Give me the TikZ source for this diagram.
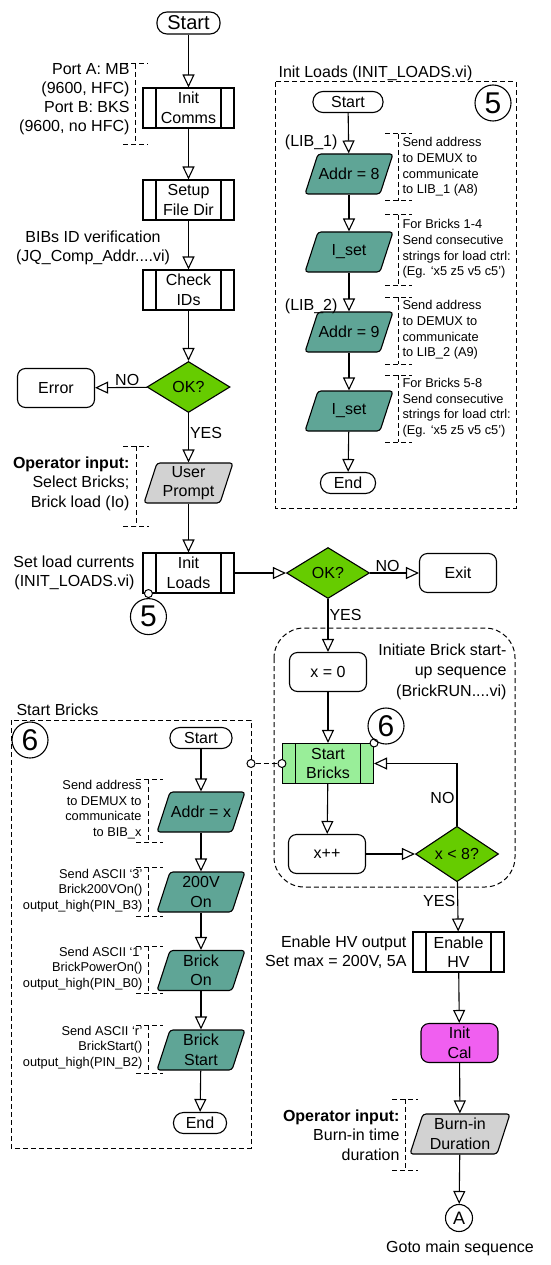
\documentclass[tikz,border=0pt]{standalone}
\usepackage{fontspec}
\setmainfont{Liberation Sans}
\usetikzlibrary{shapes.geometric,arrows.meta}

\definecolor{okgreen}{RGB}{102,204,0}
\definecolor{ioteal}{RGB}{95,165,150}
\definecolor{inputgray}{RGB}{210,210,210}
\definecolor{startgreen}{RGB}{153,238,153}
\definecolor{calpink}{RGB}{240,95,240}
\newcommand{\notefont}{\fontsize{12.8pt}{15.6pt}\selectfont}
% parallelogramme : [largeur]{nom}{x,y}{couleur}{texte}
\newcommand{\ionode}[5][88]{%
  \filldraw[fill=#4, rounded corners=3pt] (#3) ++(-#1/2,20) -- ++(#1-13,0) -- ++(13,-40) -- ++(13-#1,0) -- cycle;
  \node[iotext] (#2) at (#3) {#5};}

\begin{document}
\begin{tikzpicture}[x=1pt,y=-1pt,line width=1.1pt,font=\fontsize{16pt}{19.5pt}\selectfont]
        % Styles des blocs
        \tikzstyle{term}=[draw, rounded corners=10pt, minimum width=62pt, minimum height=21pt, inner sep=0pt]
        \tikzstyle{proc}=[draw, rounded corners=8pt, minimum width=77pt, minimum height=39pt, inner sep=0pt, align=center]
        \tikzstyle{subproc}=[draw, minimum width=91pt, minimum height=40pt, inner sep=0pt, align=center,
            path picture={\draw ([xshift=13pt]path picture bounding box.north west) -- ([xshift=13pt]path picture bounding box.south west)
                ([xshift=-13pt]path picture bounding box.north east) -- ([xshift=-13pt]path picture bounding box.south east);}]
        \tikzstyle{iotext}=[minimum width=60pt, minimum height=40pt, inner sep=0pt, align=center]
        \tikzstyle{decision}=[draw, diamond, minimum width=83pt, minimum height=51pt, inner sep=0pt, fill=okgreen]
        \tikzstyle{badge}=[draw, circle, minimum size=36pt, inner sep=0pt, font=\fontsize{30pt}{30pt}\selectfont]
        \tikzstyle{port}=[draw, circle, minimum size=8pt, inner sep=0pt, fill=white, line width=1pt]
        \tikzstyle{note}=[align=right, font=\notefont, inner sep=0pt]
        \tikzstyle{flow}=[-{Triangle[open,length=13pt,width=12pt]}]
        \tikzstyle{frame}=[line width=1pt, dash pattern=on 5pt off 3pt]

        \useasboundingbox (0,0) rectangle (550,1265);

        % Cadres
        \draw[frame] (275,82) rectangle (516,508);
        \draw[frame] (11,720) rectangle (251,1148);
        \draw[frame, rounded corners=30pt] (274,628) rectangle (515,887);

        % Colonne principale
        \node[term, minimum width=63pt, minimum height=22pt, font=\fontsize{20pt}{20pt}\selectfont] (start) at (188.5,23) {Start};
        \node[subproc] (comms) at (188.5,108) {Init\\Comms};
        \node[subproc] (filedir) at (188.5,200) {Setup\\File Dir};
        \node[subproc] (ids) at (188.5,290) {Check\\IDs};
        \node[decision] (ok1) at (188.5,387) {OK?};
        \node[proc] (err) at (56,388) {Error};
        \ionode[89]{prompt}{188.5,483}{inputgray}{User\\Prompt}
        \node[subproc] (loads) at (188.5,573) {Init\\Loads};
        \node[decision] (ok2) at (328,573) {OK?};
        \node[proc] (exit) at (458,573) {Exit};
        \node[proc] (zero) at (328,672) {x = 0};
        \node[subproc, fill=startgreen] (bricks) at (328,763.5) {Start\\Bricks};
        \node[proc] (inc) at (327,854) {x++};
        \node[decision] (less) at (457,854) {x < 8?};
        \node[subproc] (hv) at (458.5,952) {Enable\\HV};
        \node[proc, fill=calpink] (cal) at (459.5,1043) {Init\\Cal};
        \ionode[100]{dur}{460,1134}{inputgray}{Burn-in\\Duration}
        \node[draw, circle, minimum size=27pt, inner sep=0pt, font=\fontsize{18pt}{18pt}\selectfont] (gotoA) at (459,1218) {A};
        \node (gotoTxt) at (460,1248) {Goto main sequence};

        % Commentaires
        \node[align=right, anchor=east, inner sep=0pt, font=\fontsize{16pt}{19pt}\selectfont] (portsTxt) at (130,99) {Port A: MB\\(9600, HFC)\\Port B: BKS\\(9600, no HFC)};
        \node[align=center, inner sep=0pt] (idsTxt) at (93,248) {BIBs ID verification\\(JQ\_Comp\_Addr....vi)};
        \node[align=right, anchor=east, inner sep=0pt] (promptTxt) at (130,483.5) {\textbf{Operator input:}\\Select Bricks;\\Brick load (Io)};
        \node[align=right, anchor=east, inner sep=0pt] (loadsTxt) at (135,573) {Set load currents\\(INIT\_LOADS.vi)};
        \node[align=right, anchor=east, inner sep=0pt, font=\fontsize{16pt}{20.5pt}\selectfont] (seqTxt) at (507,671.5) {Initiate Brick start-\\up sequence\\(BrickRUN....vi)};
        \node[align=right, anchor=east, inner sep=0pt] (hvTxt) at (407,952) {Enable HV output\\Set max = 200V, 5A};
        \node[align=right, anchor=east, inner sep=0pt] (durTxt) at (400,1135) {\textbf{Operator input:}\\Burn-in time\\duration};
        \draw[frame] (123,64) -- (148,64) (135,64) -- (135,145) (123,145) -- (148,145);
        \draw[frame] (123,446) -- (149,446) (136,446) -- (136,526) (123,526) -- (149,526);
        \draw[frame] (392,1099) -- (418,1099) (405,1099) -- (405,1170) (392,1170) -- (418,1170);

        % Init Loads
        \node[anchor=west, inner sep=0pt] (loadsTitle) at (278,73) {Init Loads (INIT\_LOADS.vi)};
        \node[badge] (five) at (493,103) {5};
        \node[term, minimum width=70pt] (lstart) at (348,102) {Start};
        \ionode{addr8}{349,174}{ioteal}{Addr = 8}
        \ionode{iset1}{349,252}{ioteal}{I\_set}
        \ionode{addr9}{349,332}{ioteal}{Addr = 9}
        \ionode{iset2}{349,411}{ioteal}{I\_set}
        \node[term, minimum width=55pt] (lend) at (348,483) {End};
        \node[anchor=east, inner sep=0pt] (lib1) at (338,142) {(LIB\_1)};
        \node[anchor=east, inner sep=0pt] (lib2) at (338,306) {(LIB\_2)};
        \node[note, align=left, anchor=west] (lnote1) at (402,167) {Send address\\to DEMUX to\\communicate\\to LIB\_1 (A8)};
        \node[note, align=left, anchor=west] (lnote2) at (402,249) {For Bricks 1-4\\Send consecutive\\strings for load ctrl:\\(Eg. `x5 z5 v5 c5')};
        \node[note, align=left, anchor=west] (lnote3) at (402,330) {Send address\\to DEMUX to\\communicate\\to LIB\_2 (A9)};
        \node[note, align=left, anchor=west] (lnote4) at (402,407.5) {For Bricks 5-8\\Send consecutive\\strings for load ctrl:\\(Eg. `x5 z5 v5 c5')};
        \draw[frame] (385,134) -- (412,134) (398,134) -- (398,201) (385,201) -- (412,201);
        \draw[frame] (385,215) -- (412,215) (398,215) -- (398,285) (385,285) -- (412,285);
        \draw[frame] (385,297) -- (412,297) (398,297) -- (398,364) (385,364) -- (412,364);
        \draw[frame] (385,375) -- (412,375) (398,375) -- (398,442) (385,442) -- (412,442);

        % Start Bricks
        \node[anchor=west, inner sep=0pt] (bricksTitle) at (16,710) {Start Bricks};
        \node[badge] (sixA) at (30,740) {6};
        \node[term] (bstart) at (201,738) {Start};
        \ionode{addrx}{201,812}{ioteal}{Addr = x}
        \ionode{on200}{201,892}{ioteal}{200V\\On}
        \ionode{brickon}{201,970.5}{ioteal}{Brick\\On}
        \ionode{brickstart}{201,1050}{ioteal}{Brick\\Start}
        \node[term, minimum width=53pt] (bend) at (200,1123) {End};
        \node[note, anchor=east] (bnote1) at (142,809.5) {Send address\\to DEMUX to\\communicate\\to BIB\_x};
        \node[note, anchor=east] (bnote2) at (143,890.5) {Send ASCII `3'\\Brick200VOn()\\output\_high(PIN\_B3)};
        \node[note, anchor=east] (bnote3) at (143,968.5) {Send ASCII `1'\\BrickPowerOn()\\output\_high(PIN\_B0)};
        \node[note, anchor=east] (bnote4) at (143,1047.5) {Send ASCII `r'\\BrickStart()\\output\_high(PIN\_B2)};
        \draw[frame] (136,779) -- (163,779) (148,779) -- (148,842) (136,842) -- (163,842);
        \draw[frame] (136,867) -- (163,867) (148,867) -- (148,916) (136,916) -- (163,916);
        \draw[frame] (136,946) -- (163,946) (148,946) -- (148,993) (136,993) -- (163,993);
        \draw[frame] (136,1025) -- (163,1025) (148,1025) -- (148,1073) (136,1073) -- (163,1073);

        % Liaisons
        \draw[flow] (start) -- (comms);
        \draw[flow] (comms) -- (filedir);
        \draw[flow] (filedir) -- (ids);
        \draw[flow] (ids) -- (ok1);
        \draw[flow] (ok1) -- node[pos=0.38, above, inner sep=1pt] {NO} (err);
        \draw[flow] (ok1) -- node[pos=0.4, right, inner sep=1pt] {YES} (prompt);
        \draw[flow] (prompt) -- (loads);
        \draw[flow] (loads) -- (ok2);
        \draw[flow] (ok2) -- node[pos=0.36, above, inner sep=1pt] {NO} (exit);
        \draw[flow] (ok2) -- node[pos=0.3, right, inner sep=1pt] {YES} (zero);
        \draw[flow] (zero) -- (bricks);
        \draw[flow] (bricks) -- (inc);
        \draw[flow] (inc) -- (less);
        \draw[flow] (less.north) |- node[pos=0.22, left, inner sep=2pt] {NO} (bricks.east);
        \draw[flow] (less) -- node[pos=0.38, left, inner sep=2pt] {YES} (hv);
        \draw[flow] (hv) -- (cal);
        \draw[flow] (cal) -- (dur);
        \draw[flow] (dur) -- (gotoA);

        \draw[flow] (lstart) -- (addr8);
        \draw[flow] (addr8) -- (iset1);
        \draw[flow] (iset1) -- (addr9);
        \draw[flow] (addr9) -- (iset2);
        \draw[flow] (iset2) -- (lend);

        \draw[flow] (bstart) -- (addrx);
        \draw[flow] (addrx) -- (on200);
        \draw[flow] (on200) -- (brickon);
        \draw[flow] (brickon) -- (brickstart);
        \draw[flow] (brickstart) -- (bend);

        % Renvois
        \node[port] (port5) at ([xshift=6pt]loads.south west) {};
        \node[badge, anchor=north] (fiveB) at (port5.south) {5};
        \node[port] (port6) at (bricks.north east) {};
        \node[badge] (sixB) at (386,726) {6};
        \node[port] (portL) at (bricks.west) {};
        \node[port] (portR) at (251,763.5) {};
        \draw[frame] (portR) -- (portL);
\end{tikzpicture}
\end{document}
